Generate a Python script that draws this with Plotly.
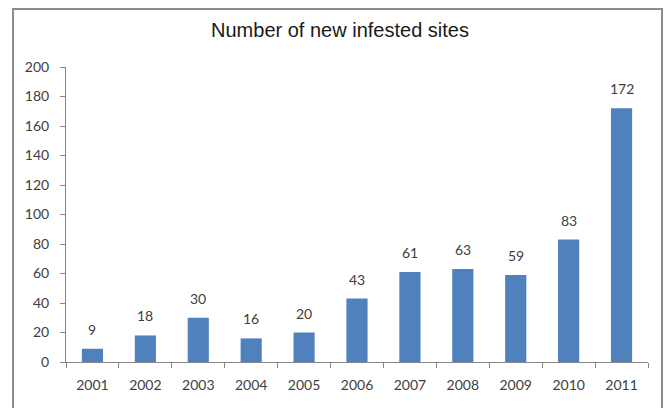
import plotly.graph_objects as go

years = ["2001", "2002", "2003", "2004", "2005", "2006", "2007", "2008", "2009", "2010", "2011"]
new_sites = [9, 18, 30, 16, 20, 43, 61, 63, 59, 83, 172]

W, H = 668, 408
ml, mr, mt, mb = 66, 20, 67, 46
pw, ph = W - ml - mr, H - mt - mb

def px_to_paper_x(px):
    return (px - ml) / pw

def px_to_paper_y(py):
    return (H - mb - py) / ph

label_font = dict(family="Lato", size=14, color="#404040")

fig = go.Figure(
    go.Bar(
        x=years,
        y=new_sites,
        marker=dict(color="#4F81BD", line=dict(width=0)),
        cliponaxis=False,
    )
)

# value labels sitting above each bar (x given as category index)
annotations = [
    dict(
        x=i,
        y=v,
        xref="x",
        yref="y",
        text=str(v),
        showarrow=False,
        yanchor="bottom",
        yshift=9,
        font=label_font,
    )
    for i, v in enumerate(new_sites)
]

fig.update_layout(
    width=W,
    height=H,
    margin=dict(l=ml, r=mr, t=mt, b=mb),
    paper_bgcolor="white",
    plot_bgcolor="white",
    bargap=0.6,
    showlegend=False,
    annotations=annotations,
    title=dict(
        text="Number of new infested sites",
        x=340 / W,
        xanchor="center",
        xref="container",
        y=1 - 30 / H,
        yanchor="middle",
        font=dict(family="Liberation Sans", size=20, color="#1a1a1a"),
    ),
    xaxis=dict(
        type="category",
        showline=True,
        linecolor="#868686",
        linewidth=1,
        ticks="outside",
        tickson="boundaries",
        ticklen=5,
        tickcolor="#868686",
        showgrid=False,
        ticklabelstandoff=10,
        tickfont=label_font,
    ),
    yaxis=dict(
        range=[0, 200],
        dtick=20,
        showline=True,
        linecolor="#868686",
        linewidth=1,
        ticks="outside",
        ticklen=5,
        tickcolor="#868686",
        showgrid=False,
        zeroline=False,
        ticklabelstandoff=8,
        tickfont=label_font,
    ),
    shapes=[
        dict(
            type="rect",
            xref="paper",
            yref="paper",
            x0=px_to_paper_x(13),
            x1=px_to_paper_x(662),
            y0=px_to_paper_y(412),
            y1=px_to_paper_y(9),
            line=dict(color="#8c8c8c", width=2),
            fillcolor="rgba(0,0,0,0)",
            layer="below",
        )
    ],
)

fig.write_html("out.html")
